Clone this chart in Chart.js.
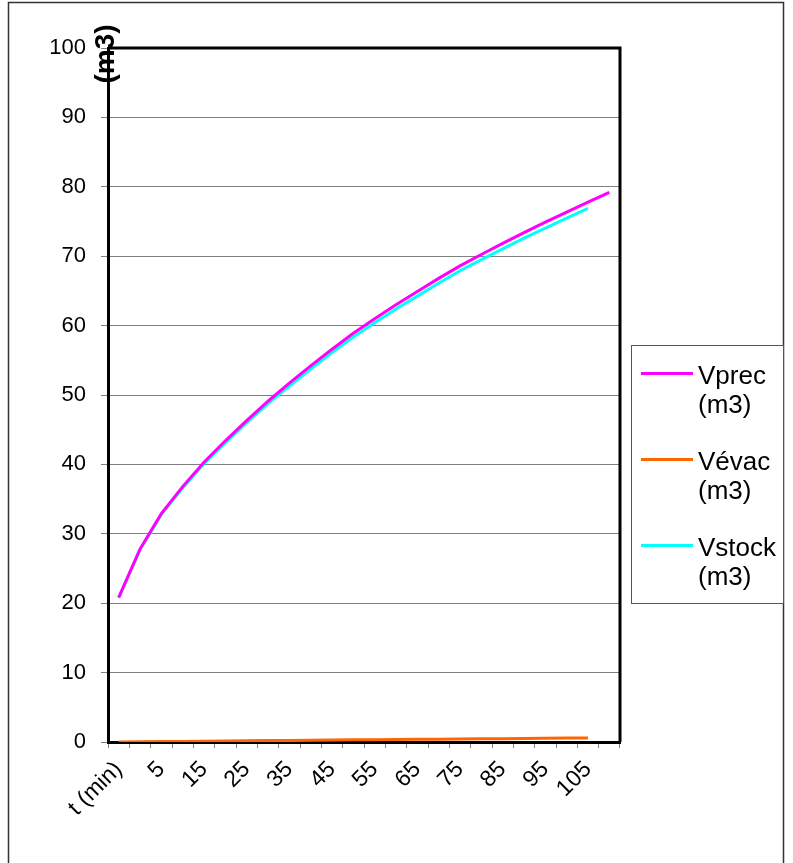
<!DOCTYPE html>
<html>
<head>
<meta charset="utf-8">
<script src="https://cdn.jsdelivr.net/npm/chart.js@4"></script>
<style>
  html, body { margin: 0; padding: 0; background: #fff; }
  #wrap { width: 793px; height: 863px; position: relative; }
</style>
</head>
<body>
<div id="wrap"><canvas id="c" width="793" height="863"></canvas></div>
<script>
// Category labels (first cell is the header of the time column, as in the sheet)
const timeLabels = ['t (min)', '0', '5', '10', '15', '20', '25', '30', '35', '40', '45', '50',
                    '55', '60', '65', '70', '75', '80', '85', '90', '95', '100', '105', '110'];

// Series values (m3)
const vprec = [20.8, 27.8, 32.9, 36.8, 40.3, 43.4, 46.3, 49.1, 51.7, 54.2, 56.6, 58.9,
               61.0, 63.0, 64.9, 66.8, 68.6, 70.25, 71.85, 73.4, 74.9, 76.35, 77.8, 79.2];
const vevac = [0.0, 0.03, 0.06, 0.09, 0.12, 0.15, 0.18, 0.20, 0.23, 0.26, 0.28, 0.31,
               0.33, 0.36, 0.38, 0.41, 0.43, 0.46, 0.48, 0.51, 0.53, 0.56, 0.58];
const vstock = [20.8, 27.7, 32.8, 36.6, 40.1, 43.1, 46.0, 48.75, 51.3, 53.75, 56.1, 58.35,
                60.4, 62.4, 64.25, 66.1, 67.9, 69.5, 71.05, 72.6, 74.05, 75.5, 76.9];

const yTicks = [0, 10, 20, 30, 40, 50, 60, 70, 80, 90, 100];

const FONT = '"Liberation Sans", Arial, sans-serif';

// outer frame, plot border, axis title and the two-line legend
const decorations = {
    id: 'decorations',
    beforeDraw(chart) {
        const ctx = chart.ctx;
        ctx.save();
        ctx.strokeStyle = '#333';
        ctx.lineWidth = 1.5;
        ctx.strokeRect(8.5, 2.5, 775, 950);
        ctx.restore();
    },
    afterDraw(chart) {
        const ctx = chart.ctx;
        const a = chart.chartArea;
        ctx.save();
        // top and right border of the plot area
        ctx.strokeStyle = '#000';
        ctx.lineWidth = 3;
        ctx.beginPath();
        ctx.moveTo(a.left, a.top);
        ctx.lineTo(a.right, a.top);
        ctx.lineTo(a.right, a.bottom);
        ctx.stroke();

        // y axis title, rotated, at the top of the axis
        ctx.fillStyle = '#000';
        ctx.font = 'bold 28px ' + FONT;
        ctx.translate(106, 54);
        ctx.rotate(-Math.PI / 2);
        ctx.textAlign = 'center';
        ctx.textBaseline = 'middle';
        ctx.fillText('(m3)', 0, 0);
        ctx.restore();

        // legend
        ctx.save();
        const lx = 631.5, ly = 345.5, lw = 152, lh = 258;
        ctx.fillStyle = '#fff';
        ctx.fillRect(lx, ly, lw, lh);
        ctx.strokeStyle = '#555';
        ctx.lineWidth = 1;
        ctx.strokeRect(lx, ly, lw, lh);
        ctx.font = '26px ' + FONT;
        ctx.textAlign = 'left';
        ctx.textBaseline = 'alphabetic';
        chart.data.datasets.forEach((ds, i) => {
            const cy = 373.5 + i * 86;
            ctx.strokeStyle = ds.borderColor;
            ctx.lineWidth = 3;
            ctx.beginPath();
            ctx.moveTo(641, cy);
            ctx.lineTo(693, cy);
            ctx.stroke();
            const parts = ds.label.split(' ');
            ctx.fillStyle = '#000';
            ctx.fillText(parts[0], 698, cy + 10);
            ctx.fillText(parts.slice(1).join(' '), 698, cy + 39);
        });
        ctx.restore();
    }
};

new Chart(document.getElementById('c'), {
    type: 'line',
    data: {
        labels: timeLabels,
        datasets: [
            { label: 'Vprec (m3)', data: vprec, borderColor: '#FF00FF', backgroundColor: '#FF00FF',
              borderWidth: 3, pointRadius: 0, tension: 0, fill: false },
            { label: 'Vévac (m3)', data: vevac, borderColor: '#FF6600', backgroundColor: '#FF6600',
              borderWidth: 3, pointRadius: 0, tension: 0, fill: false },
            { label: 'Vstock (m3)', data: vstock, borderColor: '#00FFFF', backgroundColor: '#00FFFF',
              borderWidth: 3, pointRadius: 0, tension: 0, fill: false }
        ]
    },
    options: {
        responsive: false,
        animation: false,
        layout: { padding: { left: 0, right: 173, top: 48, bottom: 0 } },
        plugins: {
            legend: { display: false },
            tooltip: { enabled: false },
            title: { display: false }
        },
        scales: {
            x: {
                type: 'category',
                offset: true,
                grid: {
                    offset: true,
                    drawOnChartArea: false,
                    drawTicks: true,
                    tickLength: 6,
                    color: '#808080'
                },
                border: { color: '#000', width: 3 },
                ticks: {
                    autoSkip: false,
                    minRotation: 45,
                    maxRotation: 45,
                    padding: 8,
                    color: '#000',
                    font: { family: FONT, size: 23 },
                    callback: (v, i) => (i % 2 === 0 ? timeLabels[i] : '')
                },
                afterFit: (s) => { s.height = 121; }
            },
            y: {
                min: 0,
                max: 100,
                afterBuildTicks: (s) => { s.ticks = yTicks.map(v => ({ value: v })); },
                grid: {
                    color: '#808080',
                    lineWidth: 1,
                    tickLength: 7
                },
                border: { color: '#000', width: 3 },
                ticks: {
                    padding: 15,
                    color: '#000',
                    font: { family: FONT, size: 22 }
                },
                afterFit: (s) => { s.width = 108; }
            }
        }
    },
    plugins: [decorations]
});
</script>
</body>
</html>
